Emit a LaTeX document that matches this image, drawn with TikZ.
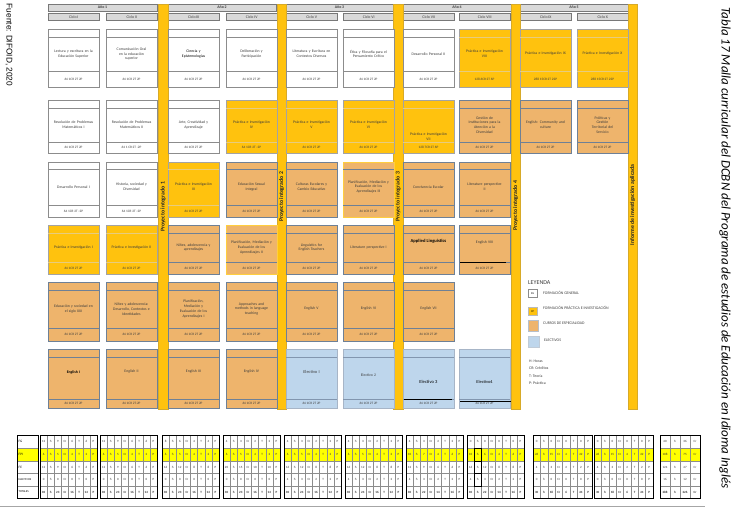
\documentclass[tikz,border=0pt]{standalone}
\usepackage{fontspec}
\setmainfont{Carlito}
\newfontfamily\arialf{Liberation Sans}
\definecolor{cFP}{RGB}{255,194,14}
\definecolor{cFPedge}{RGB}{215,170,40}
\definecolor{cCE}{RGB}{238,180,108}
\definecolor{cCEedge}{RGB}{110,128,150}
\definecolor{cEL}{RGB}{190,214,236}
\definecolor{cELedge}{RGB}{130,150,175}
\definecolor{cHdr}{RGB}{217,217,217}
\definecolor{cHdrEdge}{RGB}{120,120,120}
\definecolor{cBox}{RGB}{140,140,140}
\definecolor{cTxt}{RGB}{60,60,60}
\definecolor{cHL}{RGB}{255,255,0}
\tikzset{
  fgbox/.style={fill=white,draw=cBox,line width=0.6pt},
  fgsep/.style={draw=cBox,line width=0.4pt},
  fpbox/.style={fill=cFP,draw=cBox!80,line width=0.6pt},
  fpsep/.style={draw=cFPedge!60!white,line width=0.4pt},
  cebox/.style={fill=cCE,draw=cCEedge,line width=0.6pt},
  cesep/.style={draw=cCEedge,line width=0.4pt},
  ceybox/.style={fill=cCE,draw=cFP!80!white,line width=0.6pt},
  ceysep/.style={draw=cCEedge,line width=0.4pt},
  elbox/.style={fill=cEL,draw=cELedge!70,line width=0.6pt},
  elsep/.style={draw=cELedge,line width=0.4pt},
  ctext/.style={text width=47pt,align=center,inner sep=0pt,text=cTxt,font=\fontsize{3.8}{4.7}\selectfont},
  htext/.style={inner sep=0pt,text=cTxt,font=\fontsize{3.4}{4}\selectfont},
  hdr/.style={fill=cHdr,draw=cHdrEdge,line width=0.5pt,inner sep=0pt,minimum height=7pt,text=cTxt,font=\fontsize{3.9}{4.5}\selectfont},
  ybar/.style={fill=cFP,draw=cFPedge,line width=0.4pt,inner sep=0pt,minimum width=9.5pt,minimum height=405pt},
  bartext/.style={rotate=90,inner sep=0pt,font=\fontsize{5.8}{6}\selectfont\bfseries,text=black!85},
  legtext/.style={anchor=west,inner sep=0pt,text=cTxt,font=\fontsize{3.9}{4.5}\selectfont},
  tgrid/.style={draw=black!45,line width=0.35pt},
  tout/.style={draw=black,line width=0.6pt},
  tcell/.style={inner sep=0pt,text=black!80,font=\fontsize{3.2}{3.7}\selectfont},
  tlab/.style={anchor=west,inner sep=0pt,text=black,font=\fontsize{3.4}{4}\selectfont},
}
% course box: [text y shift]{name}{x}{row 0..5}{kind}{text}{hours}
\newcommand\crs[7][0]{%
  \pgfmathsetmacro\ya{{29,100,162,225,282,349}[#4]}%
  \pgfmathsetmacro\yb{{37,108,169,233,290,357}[#4]}%
  \pgfmathsetmacro\yc{{71,142,205,262,328,399}[#4]}%
  \pgfmathsetmacro\yd{{87,153,217,274,341,408}[#4]}%
  \draw[#5box] (#3,\ya) rectangle ({#3+51},\yd);
  \draw[#5sep] (#3,\yb) -- ({#3+51},\yb) (#3,\yc) -- ({#3+51},\yc);
  \node[ctext] (#2) at ({#3+25.5},{(\yb+\yc)/2+#1}) {#6};
  \node[htext] (#2h) at ({#3+25.5},{(\yc+\yd)/2}) {#7};
}
% table row: [style]{id}{x}{y}{cell width}{list}
\newcommand\trow[6][]{%
  \foreach \v [count=\i] in {#6} \node[tcell,#1] (t#2\i) at ({#3+(\i-0.5)*#5},#4) {\v};%
}
% table block: {id}{x}{n}{cw}{FG}{FPI}{FE}{EL}{TOT}
\newcommand\tblk[9]{%
  \fill[cHL] (#2,448) rectangle ({#2+#3*#4},461);
  \foreach \i in {0,...,#3} \draw[tgrid] ({#2+\i*#4},435) -- ({#2+\i*#4},498);
  \foreach \yy in {448,461,473,486} \draw[tgrid] (#2,\yy) -- ({#2+#3*#4},\yy);
  \draw[tout] (#2,435) rectangle ({#2+#3*#4},498);
  \trow{#1a}{#2}{441.5}{#4}{#5}
  \trow{#1b}{#2}{454.5}{#4}{#6}
  \trow{#1c}{#2}{467}{#4}{#7}
  \trow{#1d}{#2}{479.5}{#4}{#8}
  \trow[font=\fontsize{3.2}{3.7}\selectfont\bfseries]{#1e}{#2}{492}{#4}{#9}
}
\begin{document}
\begin{tikzpicture}[x=1pt,y=-1pt]
\useasboundingbox (0,0) rectangle (737,509);

% side texts
\node[rotate=-90,inner sep=0pt,font=\arialf\fontsize{8.3}{10}\selectfont] (src) at (9,45) {Fuente: DIFOID, 2020};
\node[rotate=-90,inner sep=0pt,font=\fontsize{13}{15}\selectfont\itshape] (ttl) at (725,248) {Tabla 17 Malla curricular del DCBN del Programa de estudios de Educación en Idioma Inglés};

% year headers
\node[hdr,minimum width=109pt] (y1) at (102.5,7.5) {\textbf{Año 1}};
\node[hdr,minimum width=108pt] (y2) at (222,7.5) {\textbf{Año 2}};
\node[hdr,minimum width=107pt] (y3) at (339.5,7.5) {\textbf{Año 3}};
\node[hdr,minimum width=108pt] (y4) at (457,7.5) {\textbf{Año 4}};
\node[hdr,minimum width=108pt] (y5) at (574,7.5) {\textbf{Año 5}};
% cycle headers
\foreach \x/\c [count=\k] in {48/I,106/II,168/III,226/IV,286/V,343/VI,403/VII,459/VIII,520/IX,577/X}
  \node[hdr,minimum width=51pt,anchor=north west] (cy\k) at (\x,13) {Ciclo \c};

% yellow bars
\node[ybar] (b1) at (163,206.5) {};
\node[ybar] (b2) at (281.5,206.5) {};
\node[ybar] (b3) at (398,206.5) {};
\node[ybar] (b4) at (515.5,206.5) {};
\node[ybar] (b5) at (632.5,206.5) {};
\node[bartext] (bt1) at (163,207) {Proyecto integrado 1};
\node[bartext] (bt2) at (281.5,197) {Proyecto integrado 2};
\node[bartext] (bt3) at (398,197) {Proyecto integrado 3};
\node[bartext] (bt4) at (515.5,206) {Proyecto integrado 4};
\node[bartext] (bt5) at (632.5,205) {Informe de investigación aplicada};

% row 1
\crs{c1r1}{48}{0}{fg}{Lectura y escritura en la\\Educación Superior}{64 1CR 2T 2P}
\crs{c2r1}{106}{0}{fg}{Comunicación Oral\\en la educación\\superior}{64 1CR 2T 2P}
\crs{c3r1}{168}{0}{fg}{\textcolor{black}{Ciencia y\\Epistemologías}}{64 1CR 2T 2P}
\crs{c4r1}{226}{0}{fg}{Deliberación y\\Participación}{64 1CR 2T 2P}
\crs{c5r1}{286}{0}{fg}{Literatura y Escritura en\\Contextos Diversos}{64 1CR 2T 2P}
\crs{c6r1}{343}{0}{fg}{Ética y Filosofía para el\\Pensamiento Crítico}{64 1CR 2T 2P}
\crs{c7r1}{403}{0}{fg}{Desarrollo Personal II}{64 1CR 2T 2P}
\crs{c8r1}{459}{0}{fp}{Práctica e Investigación\\VIII}{128 6CR 2T 6P}
\crs{c9r1}{520}{0}{fp}{Práctica e Investigación IX}{288 15CR 2T 22P}
\crs{c10r1}{577}{0}{fp}{Práctica e Investigación X}{288 15CR 2T 22P}
% row 2
\crs{c1r2}{48}{1}{fg}{Resolución de Problemas\\Matemáticos I}{64 1CR 2T 2P}
\crs{c2r2}{106}{1}{fg}{Resolución de Problemas\\Matemáticos II}{64 1 CR 2T -2P}
\crs{c3r2}{168}{1}{fg}{Arte, Creatividad y\\Aprendizaje}{64 1CR 2T 2P}
\crs{c4r2}{226}{1}{fp}{Práctica e Investigación\\IV}{64 1CR 2T -2P}
\crs{c5r2}{286}{1}{fp}{Práctica e Investigación\\V}{64 1CR 2T 2P}
\crs{c6r2}{343}{1}{fp}{Práctica e Investigación\\VI}{64 1CR 2T 2P}
\crs[12]{c7r2}{403}{1}{fp}{Práctica e Investigación\\VII}{128 7CR 2T 6P}
\crs{c8r2}{459}{1}{ce}{Gestión de\\Instituciones para la\\Atención a la\\Diversidad}{64 1CR 2T 2P}
\crs{c9r2}{520}{1}{ce}{English: Community and\\culture}{64 1CR 2T 2P}
\crs{c10r2}{577}{1}{ce}{Políticas y\\Gestión\\Territorial del\\Servicio}{64 1CR 2T 2P}
% row 3
\crs{c1r3}{48}{2}{fg}{Desarrollo Personal I}{64 1CR 2T -2P}
\crs{c2r3}{106}{2}{fg}{Historia, sociedad y\\Diversidad}{64 1CR 2T -2P}
\crs{c3r3}{168}{2}{fp}{Práctica e Investigación\\III}{64 1CR 2T 2P}
\crs{c4r3}{226}{2}{ce}{Educación Sexual\\Integral}{64 1CR 2T 2P}
\crs{c5r3}{286}{2}{ce}{Culturas Escolares y\\Cambio Educativo}{64 1CR 2T 2P}
\crs{c6r3}{343}{2}{cey}{Planificación, Mediación y\\Evaluación de los\\Aprendizajes III}{64 1CR 2T 2P}
\crs{c7r3}{403}{2}{ce}{Convivencia Escolar}{64 1CR 2T 2P}
\crs{c8r3}{459}{2}{ce}{Literature perspective\\II}{64 1CR 2T 2P}
% row 4
\crs{c1r4}{48}{3}{fp}{Práctica e Investigación I}{64 1CR 2T 2P}
\crs{c2r4}{106}{3}{fp}{Práctica e Investigación II}{64 1CR 2T 2P}
\crs{c3r4}{168}{3}{ce}{Niñez, adolescencia y\\aprendizajes}{64 1CR 2T 2P}
\crs{c4r4}{226}{3}{cey}{Planificación, Mediación y\\Evaluación de los\\Aprendizajes II}{64 1CR 2T 2P}
\crs{c5r4}{286}{3}{ce}{Linguistics for\\English Teachers}{64 1CR 2T 2P}
\crs{c6r4}{343}{3}{ce}{Literature perspective I}{64 1CR 2T 2P}
\crs[-6]{c7r4}{403}{3}{ce}{\textcolor{black}{\fontsize{4.6}{5}\selectfont\bfseries Applied Linguistics}}{64 1CR 2T 2P}
\crs[-5]{c8r4}{459}{3}{ce}{English VIII}{64 1CR 2T 2P}
% row 5
\crs{c1r5}{48}{4}{ce}{Educación y sociedad en\\el siglo XXI}{64 1CR 2T 2P}
\crs{c2r5}{106}{4}{ce}{Niñez y adolescencia:\\Desarrollo, Contextos e\\Identidades}{64 1CR 2T 2P}
\crs{c3r5}{168}{4}{ce}{Planificación,\\Mediación y\\Evaluación de los\\Aprendizajes I}{64 1CR 2T 2P}
\crs{c4r5}{226}{4}{ce}{Approaches and\\methods in language\\teaching}{64 1CR 2T 2P}
\crs{c5r5}{286}{4}{ce}{English V}{64 1CR 2T 2P}
\crs{c6r5}{343}{4}{ce}{English VI}{64 1CR 2T 2P}
\crs{c7r5}{403}{4}{ce}{English VII}{64 1CR 2T 2P}
% row 6
\crs[-6]{c1r6}{48}{5}{ce}{\textcolor{black}{\bfseries English I}}{64 1CR 2T 2P}
\crs[-6]{c2r6}{106}{5}{ce}{English II}{64 1CR 2T-2P}
\crs[-6]{c3r6}{168}{5}{ce}{English III}{64 1CR 2T 2P}
\crs[-6]{c4r6}{226}{5}{ce}{English IV}{64 1CR 2T 2P}
\crs[-6]{c5r6}{286}{5}{el}{\fontsize{4.4}{5}\selectfont Electivo I}{64 1CR 2T 2P}
\crs[-3]{c6r6}{343}{5}{el}{Electivo 2}{64 1CR 2T 2P}
\crs[4]{c7r6}{403}{5}{el}{\textcolor{black}{\fontsize{4.6}{5}\selectfont Electivo 3}}{64 1CR 2T 2P}
\crs[4]{c8r6}{459}{5}{el}{\textcolor{black}{\fontsize{4.4}{5}\selectfont Electivo4}}{64 1CR 2T 2P}
% black rules
\draw[black,line width=0.8pt] (460,262) -- (506,262);
\draw[black,line width=0.8pt] (404,399) -- (452,399);
\draw[black,line width=0.8pt] (460,401) -- (511,401);

% legend
\node[anchor=west,inner sep=0pt,text=cTxt,font=\fontsize{6}{7}\selectfont] (ley) at (528,283) {LEYENDA};
\node[draw=cBox,fill=white,line width=0.4pt,minimum width=9pt,minimum height=8pt,inner sep=0pt,font=\fontsize{2.8}{3}\selectfont,anchor=north west] (lfg) at (528,289) {FG};
\node[legtext] (lfgt) at (543,293) {FORMACIÓN GENERAL};
\node[draw=cBox!60,fill=cFP,line width=0.4pt,minimum width=9pt,minimum height=8pt,inner sep=0pt,font=\fontsize{2.8}{3}\selectfont,anchor=north west] (lfp) at (528,307) {FP};
\node[legtext] (lfpt) at (543,308) {FORMACIÓN PRÁCTICA E INVESTIGACIÓN};
\node[draw=cCEedge!50,fill=cCE,line width=0.4pt,minimum width=10pt,minimum height=11pt,inner sep=0pt,anchor=north west] (lce) at (528,320) {};
\node[legtext] (lcet) at (543,323) {CURSOS DE ESPECIALIDAD};
\node[draw=cELedge!50,fill=cEL,line width=0.4pt,minimum width=11pt,minimum height=11pt,inner sep=0pt,anchor=north west] (lel) at (528,336) {};
\node[legtext] (lelt) at (544,340) {ELECTIVOS};
\node[legtext] (n1) at (529,361) {H: Horas};
\node[legtext] (n2) at (529,368.5) {CR: Créditos};
\node[legtext] (n3) at (529,376) {T: Teoría};
\node[legtext] (n4) at (529,383.5) {P: Práctica};

% bottom table: labels
\fill[cHL] (17,448) rectangle (38,461);
\foreach \yy in {448,461,473,486} \draw[tgrid] (17,\yy) -- (38,\yy);
\draw[tout] (17,435) rectangle (38,498);
\node[tlab] (lFG) at (18.5,441.5) {FG};
\node[tlab] (lFPI) at (18.5,454.5) {FPI};
\node[tlab] (lFE) at (18.5,467) {FE};
\node[tlab,font=\fontsize{2.9}{3.5}\selectfont] (lEL) at (18.5,479.5) {ELECTIVOS};
\node[tlab,font=\fontsize{2.9}{3.5}\selectfont] (lTOT) at (18.5,492) {TOTALES};

\tblk{A}{40}{8}{7.125}{12,h,9,Cr,6,T,6,P}{6,h,5,Cr,4,T,2,P}{12,h,9,Cr,6,T,6,P}{0,h,0,Cr,0,T,0,P}{30,h,23,Cr,16,T,14,P}
\tblk{B}{100}{8}{7.125}{12,h,9,Cr,6,T,6,P}{6,h,5,Cr,4,T,2,P}{12,h,9,Cr,6,T,6,P}{0,h,0,Cr,0,T,0,P}{30,h,23,Cr,16,T,14,P}
\tblk{C}{162}{8}{7.125}{8,h,6,Cr,4,T,4,P}{6,h,5,Cr,4,T,2,P}{16,h,12,Cr,8,T,8,P}{0,h,0,Cr,0,T,0,P}{30,h,23,Cr,16,T,14,P}
\tblk{D}{223}{8}{7.125}{4,h,3,Cr,2,T,2,P}{6,h,5,Cr,4,T,2,P}{20,h,15,Cr,10,T,10,P}{0,h,0,Cr,0,T,0,P}{30,h,23,Cr,16,T,14,P}
\tblk{E}{284}{8}{7.125}{4,h,3,Cr,2,T,2,P}{6,h,5,Cr,4,T,2,P}{16,h,12,Cr,8,T,8,P}{4,h,3,Cr,2,T,2,P}{30,h,24,Cr,16,T,12,P}
\tblk{F}{345}{8}{7.125}{4,h,3,Cr,2,T,2,P}{6,h,5,Cr,4,T,2,P}{16,h,12,Cr,8,T,8,P}{4,h,3,Cr,2,T,2,P}{30,h,24,Cr,16,T,12,P}
\tblk{G}{406}{8}{7.125}{4,h,3,Cr,2,T,2,P}{10,h,7,Cr,4,T,6,P}{12,h,9,Cr,6,T,6,P}{4,h,3,Cr,2,T,2,P}{30,h,22,Cr,14,T,16,P}
\tblk{H}{467}{8}{7.125}{0,h,0,Cr,0,T,0,P}{10,h,6,Cr,4,T,6,P}{16,h,12,Cr,8,T,8,P}{4,h,3,Cr,2,T,2,P}{30,h,22,Cr,14,T,16,P}
\tblk{I}{533}{8}{7.375}{0,h,0,Cr,0,T,0,P}{26,h,15,Cr,4,T,22,P}{4,h,3,Cr,2,T,2,P}{0,h,0,Cr,0,T,0,P}{30,h,18,Cr,6,T,24,P}
\tblk{J}{594}{8}{7.375}{0,h,0,Cr,0,T,0,P}{26,h,15,Cr,4,T,22,P}{4,h,3,Cr,2,T,2,P}{0,h,0,Cr,0,T,0,P}{30,h,18,Cr,6,T,24,P}
\tblk{K}{660}{4}{10}{40,h,36,Cr}{108,h,75,Cr}{124,h,47,Cr}{16,h,12,Cr}{288,h,226,Cr}
\draw[black,line width=0.9pt] (474.1,448) rectangle (481.25,461) (474.1,461) rectangle (481.25,473) (474.1,473) rectangle (481.25,486);
\draw[black!35,line width=0.5pt] (0,506) -- (705,506);
\end{tikzpicture}
\end{document}
